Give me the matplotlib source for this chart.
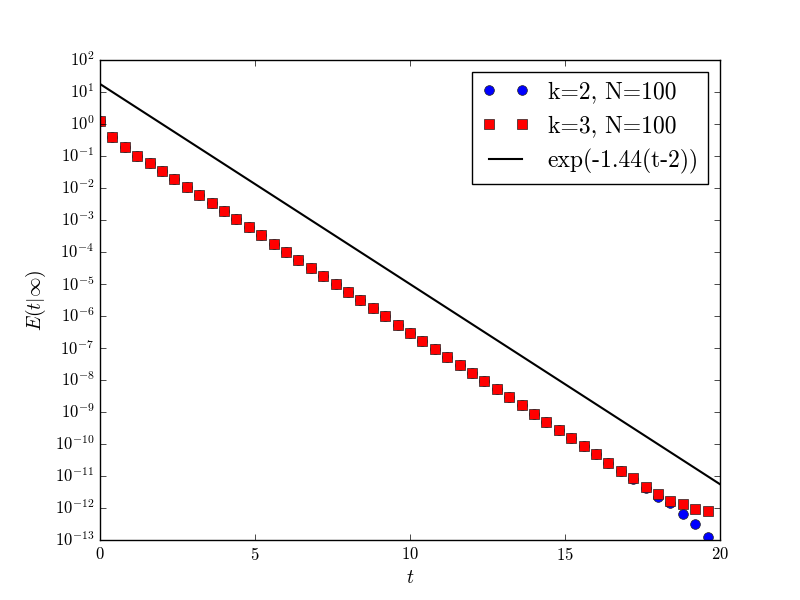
import matplotlib
matplotlib.use("Agg")
import matplotlib.pyplot as plt
import numpy as np

plt.style.use("classic")
plt.rcParams['mathtext.fontset'] = 'cm'
plt.rcParams['font.family'] = ['cmr10', 'DejaVu Serif']
plt.rcParams['axes.formatter.use_mathtext'] = True

t = [round(0.4 * i, 1) for i in range(50)]

# log10 of E(t|inf)
log_k3 = [0.10, -0.42, -0.73, -0.99, -1.23, -1.47, -1.72, -1.98, -2.23, -2.48,
          -2.73, -2.98, -3.23, -3.48, -3.74, -4.00, -4.24, -4.50, -4.75, -5.00,
          -5.26, -5.51, -5.76, -6.01, -6.27, -6.53, -6.77, -7.02, -7.28, -7.53,
          -7.78, -8.04, -8.29, -8.54, -8.79, -9.05, -9.30, -9.55, -9.81, -10.06,
          -10.32, -10.58, -10.84, -11.06, -11.33, -11.56, -11.79, -11.86, -12.04, -12.09]
log_k2 = [0.10, -0.42, -0.73, -0.99, -1.23, -1.47, -1.72, -1.98, -2.23, -2.48,
          -2.73, -2.98, -3.23, -3.48, -3.74, -4.00, -4.24, -4.50, -4.75, -5.00,
          -5.26, -5.51, -5.76, -6.01, -6.27, -6.53, -6.77, -7.02, -7.28, -7.53,
          -7.78, -8.04, -8.29, -8.54, -8.79, -9.05, -9.30, -9.55, -9.81, -10.06,
          -10.32, -10.58, -10.84, -11.09, -11.38, -11.65, -11.85, -12.19, -12.50, -12.90]

E_k2 = [10 ** v for v in log_k2]
E_k3 = [10 ** v for v in log_k3]

line_t = [0, 20]
rate = 1.44
shift = 2

fig = plt.figure(figsize=(8, 6), dpi=100)
ax = fig.add_subplot(111)

ax.semilogy(t, E_k2, 'o', color='blue', markersize=7, markeredgecolor='#222222',
            markeredgewidth=0.5, label='k=2, N=100')
ax.semilogy(t, E_k3, 's', color='red', markersize=7, markeredgecolor='#222222',
            markeredgewidth=0.5, label='k=3, N=100')
tl = np.linspace(line_t[0], line_t[1], 200)
ax.semilogy(tl, np.exp(-rate * (tl - shift)), '-', color='black', linewidth=1.5,
            label='exp(-1.44(t-2))')

ax.set_xlim(0, 20)
ax.set_ylim(1e-13, 1e2)
ax.set_yticks([10.0 ** k for k in range(-13, 3)])
ax.yaxis.set_minor_locator(matplotlib.ticker.NullLocator())
ax.set_xlabel(r'$t$', fontsize=14)
ax.set_ylabel(r'$E(t|\infty)$', fontsize=14)
ax.tick_params(labelsize=12)
ax.legend(loc='upper right', numpoints=2, fontsize=17, labelspacing=0.5)

fig.savefig('out.png', dpi=100)
